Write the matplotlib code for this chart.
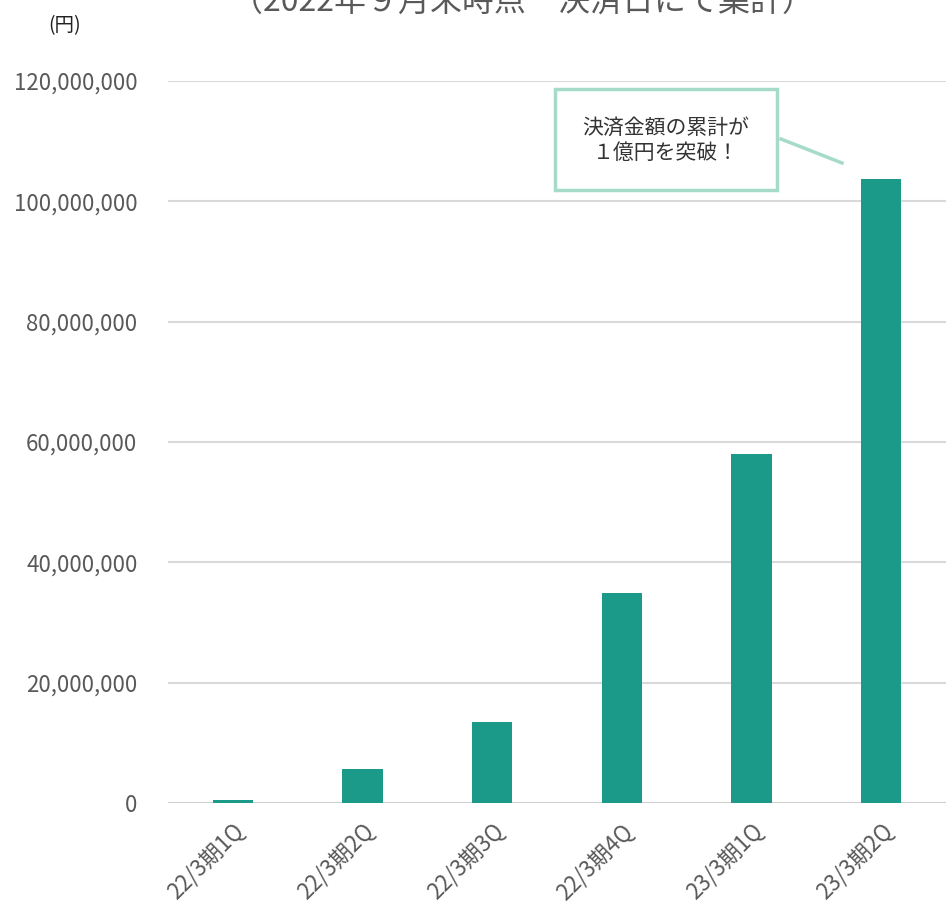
import matplotlib
matplotlib.use("Agg")
import matplotlib.pyplot as plt
from matplotlib.patches import Rectangle
from matplotlib.lines import Line2D
from matplotlib.ticker import FuncFormatter

plt.rcParams['font.family'] = ['Noto Sans CJK JP', 'DejaVu Sans']

# data
quarters = ['22/3期1Q', '22/3期2Q', '22/3期3Q', '22/3期4Q', '23/3期1Q', '23/3期2Q']
amounts = [500000, 5650000, 13450000, 34900000, 58000000, 103700000]
y_ticks = [0, 20000000, 40000000, 60000000, 80000000, 100000000, 120000000]

W, H = 946, 913
fig = plt.figure(figsize=(W / 100, H / 100), dpi=100)
ax = fig.add_axes([168 / W, 1 - 803 / H, 1 - 168 / W, (803 - 81) / H])

ax.bar(range(len(quarters)), amounts, width=0.31, color='#1B9A8A', zorder=3)

ax.set_xlim(-0.5, len(quarters) - 0.5)
ax.set_ylim(0, 120000000)
ax.set_yticks(y_ticks)
ax.yaxis.set_major_formatter(FuncFormatter(lambda v, p: f'{int(v):,}'))
ax.grid(axis='y', color='#d9d9d9', linewidth=1.5, zorder=0)
ax.axhline(0, color='#d0d0d0', linewidth=2, zorder=2)
for s in ax.spines.values():
    s.set_visible(False)
ax.tick_params(axis='both', length=0, colors='#595959', labelsize=16)
ax.tick_params(axis='y', pad=22)
ax.set_xticks(range(len(quarters)))
ax.set_xticklabels(quarters, rotation=45, ha='right', va='top',
                   rotation_mode='anchor')
ax.tick_params(axis='x', pad=12)

# title (cut off at top in the original)
fig.text(522 / W, 1 - 2 / H, '（2022年９月末時点　決済日にて集計）',
         ha='center', va='center', fontsize=23, color='#595959')
fig.text(48 / W, 1 - 26 / H, '(円)', ha='left', va='center',
         fontsize=14, color='#222222')

# callout
box_col = '#a6dbc9'
fig.patches.append(Rectangle((555 / W, 1 - 190 / H), (777 - 555) / W, (190 - 89) / H,
                             transform=fig.transFigure, fill=False,
                             edgecolor=box_col, linewidth=2.5))
fig.text(666 / W, 1 - 140 / H, '決済金額の累計が\n１億円を突破！', ha='center',
         va='center', fontsize=15, color='#333333', linespacing=1.2)
fig.lines.append(Line2D([781 / W, 842 / W], [1 - 139 / H, 1 - 163 / H],
                        transform=fig.transFigure, color=box_col, linewidth=2.5))

fig.savefig('out.png', dpi=100)
